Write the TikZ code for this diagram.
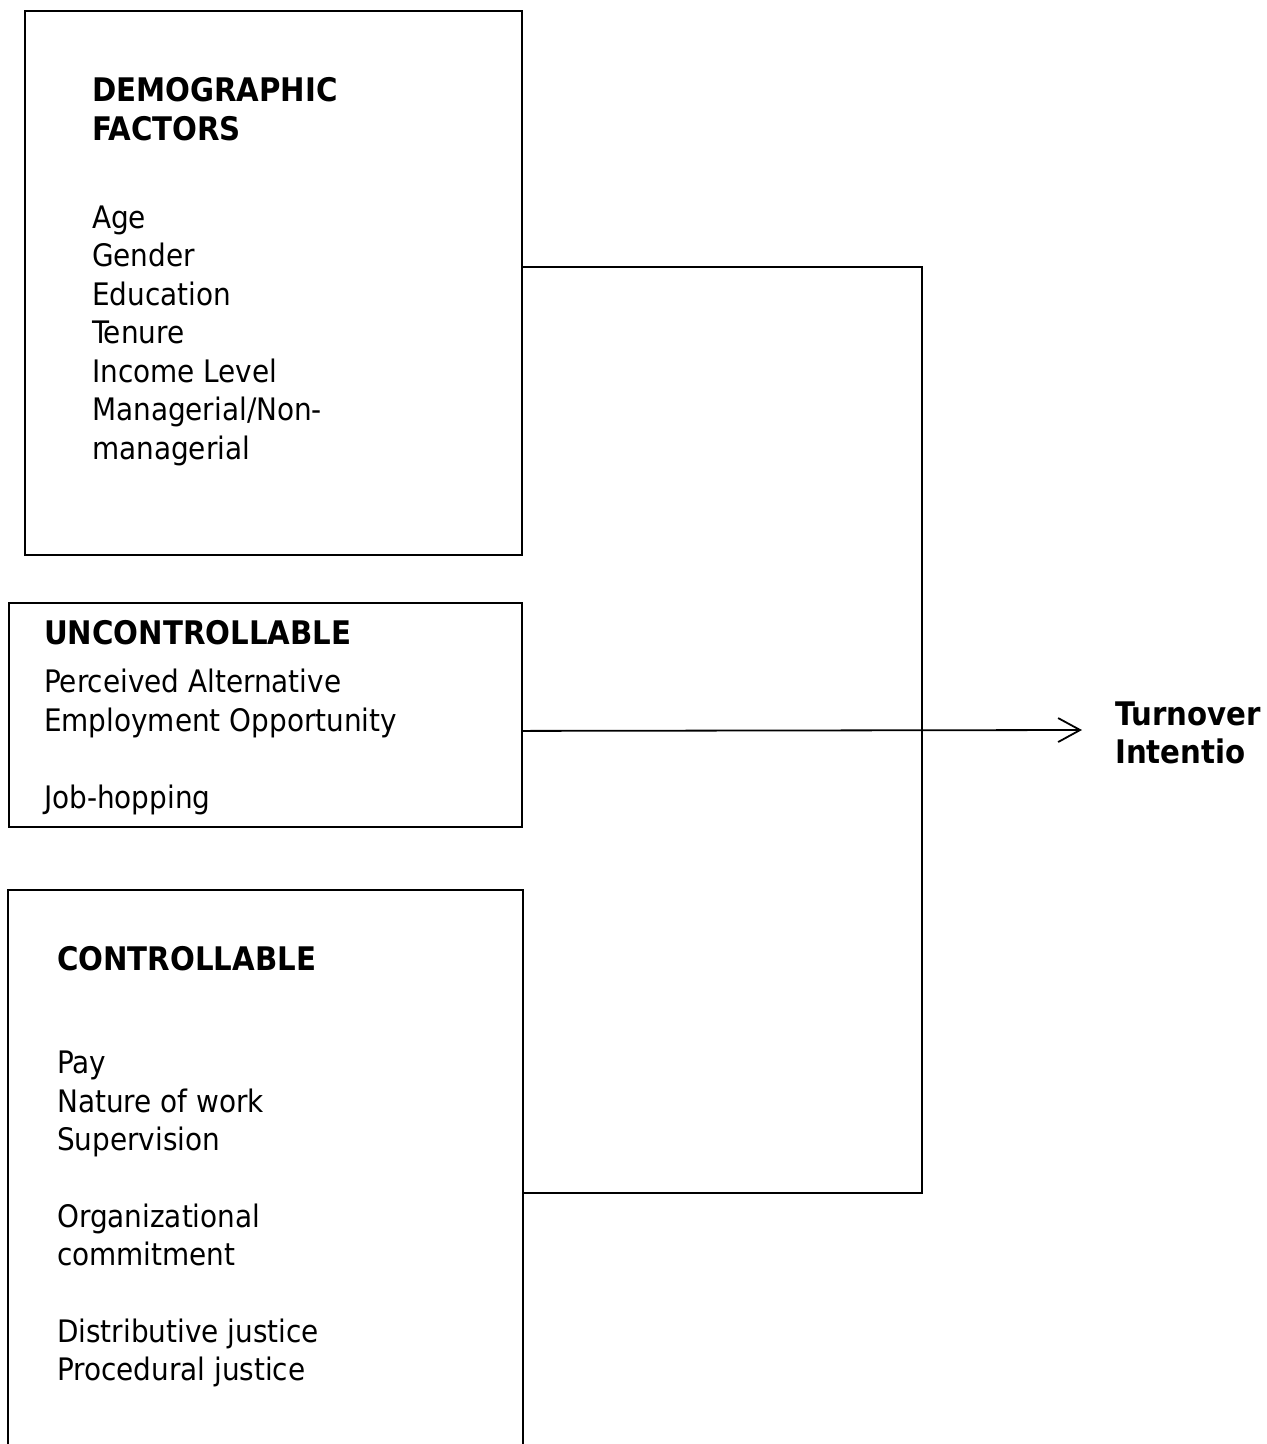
\documentclass[tikz,border=0pt]{standalone}
\usepackage{fontspec}
\setmainfont{DejaVu Sans Condensed}
\usetikzlibrary{arrows.meta}
\begin{document}
\begin{tikzpicture}[x=1pt,y=-1pt,
  box/.style={draw,line width=1.8pt,inner sep=0pt,anchor=north west},
  txt/.style={anchor=base west,inner sep=0pt,font=\fontsize{31}{38}\selectfont},
  hd/.style={anchor=base west,inner sep=0pt,font=\fontsize{32.5}{38}\selectfont\bfseries},
  conn/.style={line width=1.8pt}]
\useasboundingbox[fill=white] (0,0) rectangle (1267,1444);
% boxes
\node[box,minimum width=497pt,minimum height=544pt] (demo) at (24,10) {};
\node[box,minimum width=513pt,minimum height=224pt] (unc) at (8,602) {};
\node[box,draw=none,minimum width=513pt,minimum height=580pt] (ctrl) at (8,890) {};
\draw[conn] (ctrl.south west) -- (ctrl.north west) -- (ctrl.north east) -- (ctrl.south east);
% demographic text
\node[hd] (dh1) at (92,101) {DEMOGRAPHIC};
\node[hd] (dh2) at (92,140) {FACTORS};
\node[txt] (d1) at (92,228) {Age};
\node[txt] (d2) at (92,266) {Gender};
\node[txt] (d3) at (92,305) {Education};
\node[txt] (d4) at (92,343) {Tenure};
\node[txt] (d5) at (92,382) {Income Level};
\node[txt] (d6) at (92,420) {Managerial/Non-};
\node[txt] (d7) at (92,459) {managerial};
% uncontrollable text
\node[hd] (uh) at (44,644) {UNCONTROLLABLE};
\node[txt] (u1) at (44,692) {Perceived Alternative};
\node[txt] (u2) at (44,731) {Employment Opportunity};
\node[txt] (u3) at (44,808) {Job-hopping};
% controllable text
\node[hd] (ch) at (57,970) {CONTROLLABLE};
\node[txt] (c1) at (57,1073) {Pay};
\node[txt] (c2) at (57,1112) {Nature of work};
\node[txt] (c3) at (57,1150) {Supervision};
\node[txt] (c4) at (57,1227) {Organizational};
\node[txt] (c5) at (57,1265) {commitment};
\node[txt] (c6) at (57,1342) {Distributive justice};
\node[txt] (c7) at (57,1380) {Procedural justice};
% outcome
\node[hd] (t1) at (1115,725) {Turnover};
\node[hd] (t2) at (1115,763) {Intentio};
\coordinate (tip) at (1082,730);
% connectors
\draw[conn] ([yshift=16pt]demo.east) -- ++(399,0) |- ([yshift=-303pt]ctrl.north east);
\draw[conn,-{Straight Barb[length=22pt,width=24pt,line width=1.8pt]}] ([yshift=-16pt]unc.east) -- (tip);
\end{tikzpicture}
\end{document}
